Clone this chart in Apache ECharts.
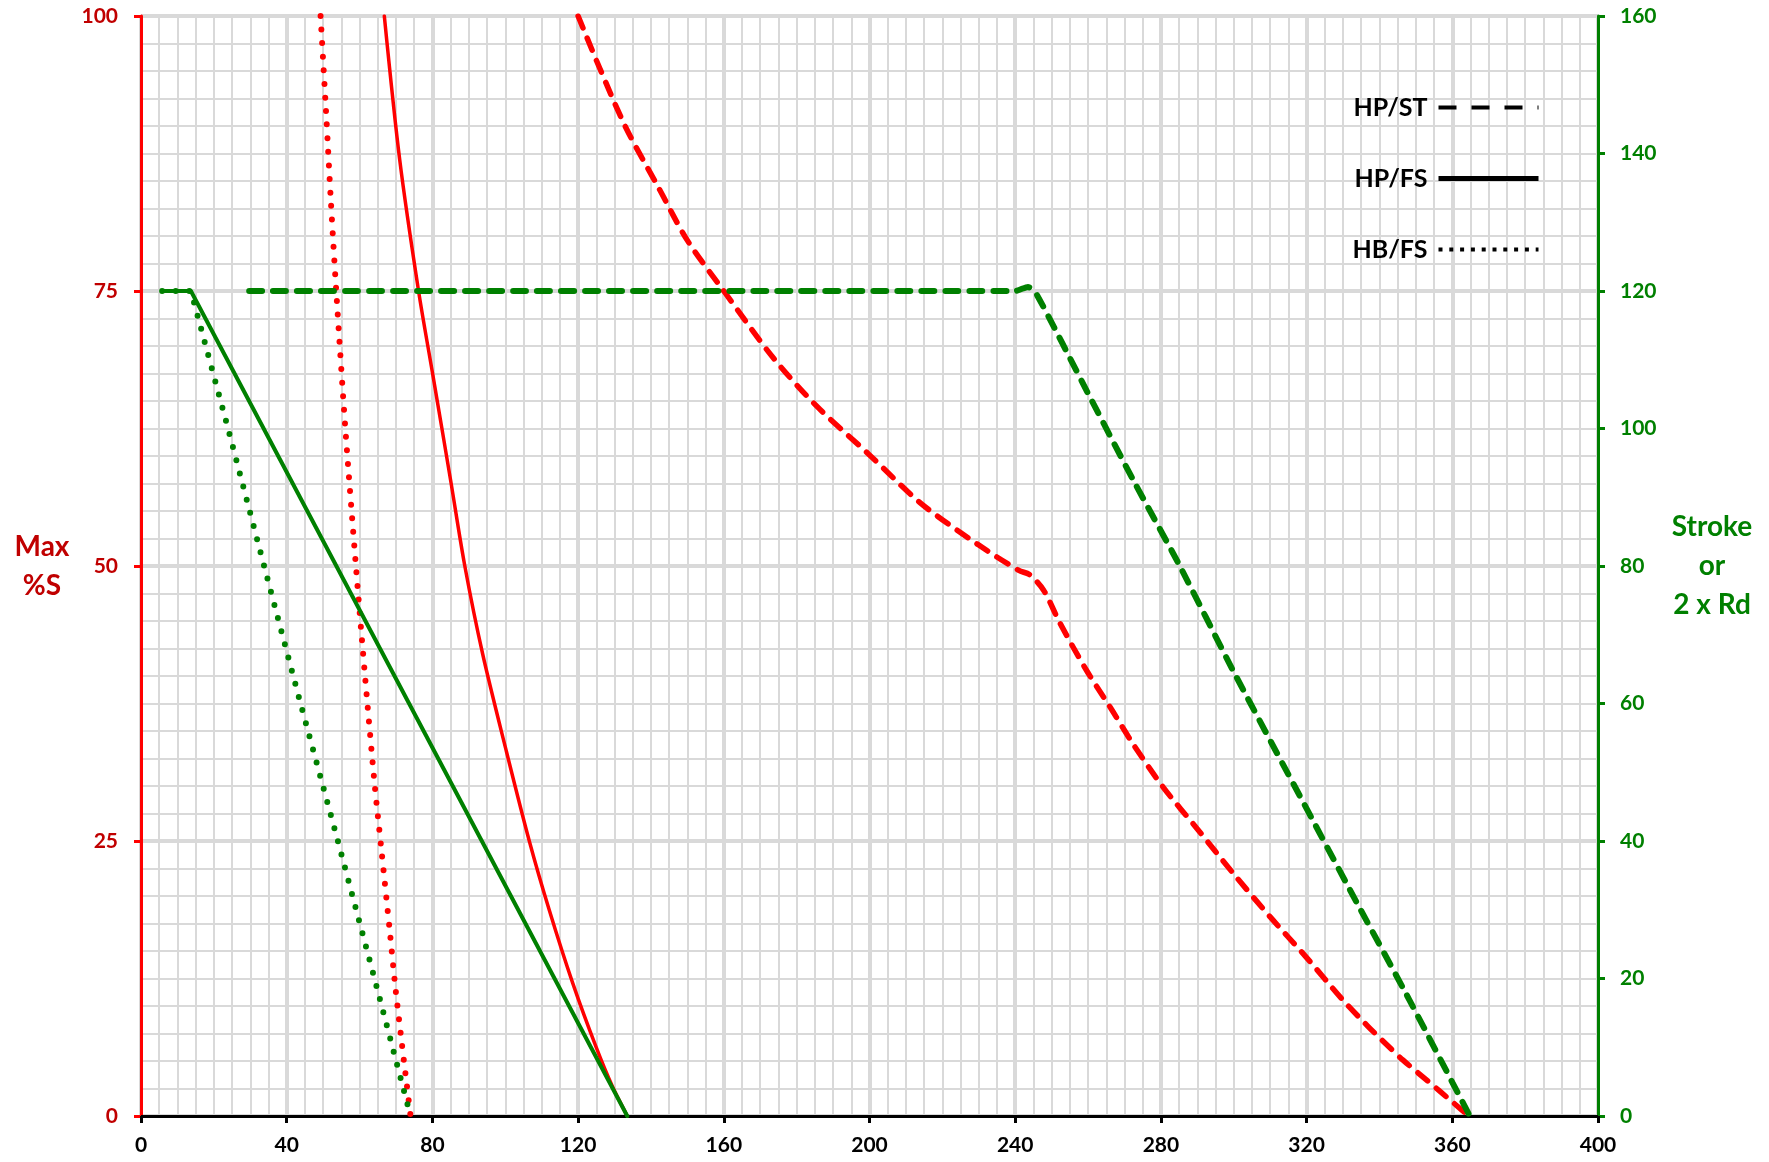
<!DOCTYPE html>
<html>
<head>
<meta charset="utf-8">
<title>Max %S and Stroke</title>
<script src="https://cdn.jsdelivr.net/npm/echarts@6/dist/echarts.min.js"></script>
<style>
  html, body { margin: 0; padding: 0; background: #fff; }
  #chart { width: 1769px; height: 1162px; }
</style>
</head>
<body>
<div id="chart"></div>
<script>
// Axis ranges and tick steps
const xRange = [0, 400], xStep = 40, xMinorSplit = 8;
const pctRange = [0, 100], pctStep = 25, pctMinorSplit = 10;
const strokeRange = [0, 160], strokeStep = 20;

// Legend entries (black key lines)
const legendNames = ['HP/ST', 'HP/FS', 'HB/FS'];

// Max %S curves (left axis), [x, %S]
const hpStPct = [[120, 100], [126, 95.2], [133.2, 89.8], [142.4, 84.2], [150, 79.6], [160, 75],
  [173.4, 69.0], [185.3, 64.6], [200, 60.1], [214.1, 55.7], [230, 51.9], [241, 49.6], [244, 49.2],
  [247.8, 47.8], [252.3, 44.8], [259.6, 40.5], [266, 37.2], [272.4, 33.8], [280.6, 29.9], [290, 26.1],
  [300, 22.0], [310, 18.1], [320, 14.4], [329.8, 10.6], [336.7, 8.2], [341.3, 6.7], [346.4, 5.1],
  [351.4, 3.7], [356.4, 2.3], [361, 1.0], [364.6, 0]];
const hpFsPct = [[66.8, 100], [71.0, 87.0], [76.2, 75.0], [80.0, 67.6], [85.0, 57.8], [88.9, 50.0],
  [93.8, 42.0], [100.2, 33.3], [106.6, 25.0], [112.1, 18.7], [118.5, 12.1], [124.9, 6.3], [129.4, 2.7],
  [133.5, 0]];
const hbFsPct = [[49.3, 100], [50.9, 90.7], [52.1, 83.3], [53.6, 75], [56.1, 62.5], [59.0, 50],
  [61.5, 40], [64.1, 30.3], [66.0, 24.2], [68.3, 16.8], [69.8, 11.8], [71.5, 6.9], [72.8, 3.3], [74.0, 0]];

// Stroke or 2 x Rd curves (right axis), [x, stroke]
const hpStStroke = [[29.7, 120], [240, 120], [243.5, 120.6], [246, 119.4], [260, 105.1], [272.4, 92.5],
  [284.9, 80.3], [299.8, 64.8], [318.1, 46.6], [333, 31.8], [348.2, 16.9], [364.8, 0]];
const hpFsStroke = [[5.8, 120], [13.7, 120], [133.5, 0]];
const hbFsStroke = [[5.8, 120], [13.7, 120], [23.9, 100], [33.8, 80], [43.8, 60], [54.05, 40],
  [64.1, 20], [74.0, 0]];

const FONT = 'Lato, "Open Sans", sans-serif';
const RED = '#ff0000', DARK_RED = '#c00000', GREEN = '#008000', GRID = '#d9d9d9';

const DASH = [13, 11];
const DOT = [0, 13.6];

function curve(name, data, axis, color, width, type, smooth) {
  return {
    name: name,
    type: 'line',
    yAxisIndex: axis,
    data: data,
    symbol: 'none',
    smooth: smooth,
    silent: true,
    lineStyle: { color: color, width: width, type: type, cap: 'round', join: 'round' }
  };
}

// Empty series that only feed the legend keys
function key(name, width, type) {
  return {
    name: name, type: 'line', data: [], symbol: 'none',
    itemStyle: { color: '#000' },
    lineStyle: { color: '#000', width: width, type: type, cap: 'butt' }
  };
}

const labelText = { fontFamily: FONT, fontWeight: 'bold', fontSize: 21 };
const titleText = { fontFamily: FONT, fontWeight: 'bold', fontSize: 28, lineHeight: 39, align: 'center', verticalAlign: 'middle' };

const option = {
  animation: false,
  backgroundColor: '#ffffff',
  grid: { left: 141, right: 171, top: 16, bottom: 46, containLabel: false, outerBoundsMode: 'none' },
  legend: {
    data: [
      { name: legendNames[0], lineStyle: { color: '#000', width: 4, type: [18, 15], cap: 'butt' } },
      { name: legendNames[1], lineStyle: { color: '#000', width: 5, type: 'solid', cap: 'butt' } },
      { name: legendNames[2], lineStyle: { color: '#000', width: 4, type: [4, 6.8], cap: 'butt' } }
    ],
    orient: 'vertical',
    align: 'right',
    right: 228,
    top: 95,
    padding: 0,
    itemWidth: 100,
    itemHeight: 14,
    itemGap: 46,
    selectedMode: false,
    itemStyle: { opacity: 0 },
    textStyle: { fontFamily: FONT, fontWeight: 'bold', fontSize: 25, color: '#000', lineHeight: 14, padding: [0, 6, 0, 0] }
  },
  xAxis: {
    type: 'value', min: xRange[0], max: xRange[1], interval: xStep,
    axisLine: { show: true, onZero: false, lineStyle: { color: '#000', width: 3 } },
    axisTick: { show: true, length: 7, lineStyle: { color: '#000', width: 3 } },
    axisLabel: Object.assign({ margin: 19, color: '#000' }, labelText),
    splitLine: { show: true, lineStyle: { color: GRID, width: 4 } },
    minorTick: { show: false, splitNumber: xMinorSplit },
    minorSplitLine: { show: true, lineStyle: { color: GRID, width: 2 } }
  },
  yAxis: [
    {
      type: 'value', position: 'left', min: pctRange[0], max: pctRange[1], interval: pctStep,
      name: 'Max\n%S', nameLocation: 'middle', nameRotate: 0, nameGap: 99,
      nameTextStyle: Object.assign({ color: DARK_RED }, titleText),
      axisLine: { show: true, onZero: false, lineStyle: { color: RED, width: 3 } },
      axisTick: { show: true, length: 7, lineStyle: { color: RED, width: 3 } },
      axisLabel: Object.assign({ margin: 23, color: DARK_RED }, labelText),
      splitLine: { show: true, lineStyle: { color: GRID, width: 4 } },
      minorTick: { show: false, splitNumber: pctMinorSplit },
      minorSplitLine: { show: true, lineStyle: { color: GRID, width: 2 } }
    },
    {
      type: 'value', position: 'right', min: strokeRange[0], max: strokeRange[1], interval: strokeStep,
      name: 'Stroke\nor\n2 x Rd', nameLocation: 'middle', nameRotate: 0, nameGap: 114,
      nameTextStyle: Object.assign({ color: GREEN }, titleText),
      axisLine: { show: true, onZero: false, lineStyle: { color: GREEN, width: 3 } },
      axisTick: { show: true, length: 7, lineStyle: { color: GREEN, width: 3 } },
      axisLabel: Object.assign({ margin: 22, color: GREEN }, labelText),
      splitLine: { show: false }
    }
  ],
  series: [
    curve('HP/ST %S', hpStPct, 0, RED, 5.5, DASH, 0.3),
    curve('HP/FS %S', hpFsPct, 0, RED, 3.5, 'solid', 0.3),
    curve('HB/FS %S', hbFsPct, 0, RED, 6, DOT, 0.3),
    curve('HP/ST stroke', hpStStroke, 1, GREEN, 6, DASH, 0.2),
    curve('HP/FS stroke', hpFsStroke, 1, GREEN, 4, 'solid', false),
    curve('HB/FS stroke', hbFsStroke, 1, GREEN, 6, DOT, false),
    key(legendNames[0], 4, [18, 15]),
    key(legendNames[1], 5, 'solid'),
    key(legendNames[2], 4, [4, 6.8])
  ]
};

const chart = echarts.init(document.getElementById('chart'), null, { renderer: 'canvas' });
chart.setOption(option);
</script>
</body>
</html>
